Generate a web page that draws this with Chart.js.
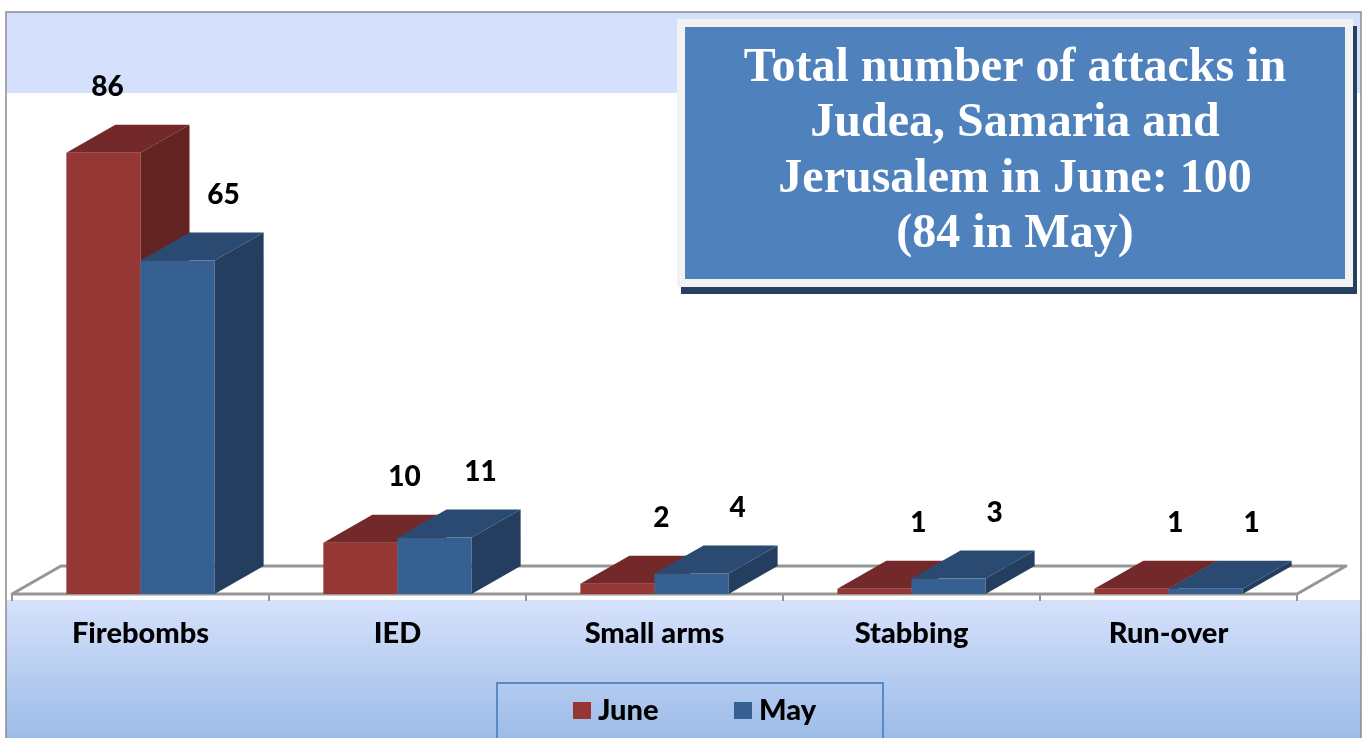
<!DOCTYPE html>
<html>
<head>
<meta charset="utf-8">
<script src="https://cdn.jsdelivr.net/npm/chart.js@4.4.1/dist/chart.umd.min.js"></script>
<style>
  html, body { margin: 0; padding: 0; background: #ffffff; }
  #grafico-ataques { display: block; }
</style>
</head>
<body>
<canvas id="grafico-ataques" width="1365" height="738"></canvas>
<script>
// Datos
const categorias = ['Firebombs', 'IED', 'Small arms', 'Stabbing', 'Run-over'];
const junio = [86, 10, 2, 1, 1];
const mayo = [65, 11, 4, 3, 1];
const series = ['June', 'May'];
const ejeMaximo = 100;
const lineasTitulo = ['Total number of attacks in', 'Judea, Samaria and', 'Jerusalem in June: 100', '(84 in May)'];

// Colores de cada serie: frente, tapa, lado
const colores = [
  { frente: '#953735', tapa: '#73292a', lado: '#632322' },
  { frente: '#376092', tapa: '#2b4a72', lado: '#233e5f' },
];

// Profundidad del efecto 3D
const prof = { dx: 49, dy: 28 };
const fuenteEtiquetas = 'Lato, "Noto Sans", sans-serif';

// Fondo, marco y piso
const pluginFondo = {
  id: 'fondo',
  beforeDraw(chart) {
    const ctx = chart.ctx;
    const area = chart.chartArea;
    ctx.save();
    ctx.fillStyle = '#ffffff';
    ctx.fillRect(0, 0, chart.width, chart.height);

    // Banda superior
    ctx.fillStyle = '#d5e0fc';
    ctx.fillRect(6, 12, 1355, 81);

    // Banda inferior con degradado
    const grad = ctx.createLinearGradient(0, 600, 0, 738);
    grad.addColorStop(0, '#d6e1fc');
    grad.addColorStop(1, '#9cbce8');
    ctx.fillStyle = grad;
    ctx.fillRect(6, 600, 1355, 138);

    // Marco exterior
    ctx.strokeStyle = '#8c8c8c';
    ctx.lineWidth = 1.5;
    ctx.beginPath();
    ctx.moveTo(6, 738);
    ctx.lineTo(6, 12);
    ctx.lineTo(1361, 12);
    ctx.lineTo(1361, 738);
    ctx.stroke();

    // Piso 3D
    ctx.strokeStyle = '#969696';
    ctx.lineWidth = 3;
    ctx.lineJoin = 'round';
    ctx.beginPath();
    ctx.moveTo(area.left, area.bottom);
    ctx.lineTo(area.right, area.bottom);
    ctx.lineTo(area.right + prof.dx, area.bottom - prof.dy);
    ctx.lineTo(area.left + prof.dx, area.bottom - prof.dy);
    ctx.closePath();
    ctx.stroke();

    // Marcas de separación de categorías
    const paso = (area.right - area.left) / categorias.length;
    ctx.lineWidth = 2;
    ctx.beginPath();
    for (let i = 0; i <= categorias.length; i++) {
      const x = area.left + i * paso;
      ctx.moveTo(x, area.bottom);
      ctx.lineTo(x, area.bottom + 7);
    }
    ctx.stroke();
    ctx.restore();
  },
};

// Barras 3D dibujadas a mano a partir de los elementos de Chart.js
const pluginBarras3D = {
  id: 'barras3d',
  beforeDatasetDraw() {
    return false; // no dibujar la barra plana por defecto
  },
  afterDatasetsDraw(chart) {
    const ctx = chart.ctx;
    ctx.save();
    for (let i = 0; i < categorias.length; i++) {
      chart.data.datasets.forEach((ds, d) => {
        const bar = chart.getDatasetMeta(d).data[i];
        const c = colores[d];
        const x0 = bar.x - bar.width / 2;
        const x1 = bar.x + bar.width / 2;
        const top = bar.y;
        const base = bar.base;

        ctx.fillStyle = c.frente;
        ctx.fillRect(x0, top, x1 - x0, base - top);

        ctx.fillStyle = c.tapa;
        ctx.beginPath();
        ctx.moveTo(x0, top);
        ctx.lineTo(x1, top);
        ctx.lineTo(x1 + prof.dx, top - prof.dy);
        ctx.lineTo(x0 + prof.dx, top - prof.dy);
        ctx.closePath();
        ctx.fill();

        ctx.fillStyle = c.lado;
        ctx.beginPath();
        ctx.moveTo(x1, top);
        ctx.lineTo(x1 + prof.dx, top - prof.dy);
        ctx.lineTo(x1 + prof.dx, base - prof.dy);
        ctx.lineTo(x1, base);
        ctx.closePath();
        ctx.fill();
      });
    }

    // Etiquetas de valores
    ctx.fillStyle = '#000000';
    ctx.font = '900 28px ' + fuenteEtiquetas;
    ctx.textAlign = 'center';
    ctx.textBaseline = 'middle';
    chart.data.datasets.forEach((ds, d) => {
      chart.getDatasetMeta(d).data.forEach((bar, i) => {
        // la etiqueta más alta queda encima de la barra
        let dx = d === 0 ? 44 : 46;
        if (d === 0 && i === 0) dx = 4;
        ctx.fillText(String(ds.data[i]), bar.x + dx, bar.y - 66);
      });
    });
    ctx.restore();
  },
};

// Etiquetas de categoría, leyenda y cuadro de título
const pluginTextos = {
  id: 'textos',
  afterDraw(chart) {
    const ctx = chart.ctx;
    const escalaX = chart.scales.x;
    ctx.save();

    // Categorías
    ctx.fillStyle = '#000000';
    ctx.font = '900 29px ' + fuenteEtiquetas;
    ctx.textAlign = 'center';
    ctx.textBaseline = 'alphabetic';
    categorias.forEach((cat, i) => {
      ctx.fillText(cat, escalaX.getPixelForValue(i), 643);
    });

    // Leyenda
    ctx.strokeStyle = '#5a8ac6';
    ctx.lineWidth = 2;
    ctx.strokeRect(497, 683, 386, 60);
    const posLeyenda = [573, 734];
    ctx.font = '900 29px ' + fuenteEtiquetas;
    ctx.textAlign = 'left';
    chart.data.datasets.forEach((ds, d) => {
      ctx.fillStyle = ds.backgroundColor;
      ctx.fillRect(posLeyenda[d], 702, 18, 17);
      ctx.fillStyle = '#000000';
      ctx.fillText(ds.label, posLeyenda[d] + 25, 720);
    });

    // Cuadro del título con sombra
    ctx.fillStyle = '#254061';
    ctx.fillRect(681, 26, 676, 268);
    ctx.fillStyle = '#f2f2f2';
    ctx.fillRect(677, 19, 676, 268);
    ctx.fillStyle = '#4f81bd';
    ctx.fillRect(685, 27, 660, 252);
    ctx.fillStyle = '#ffffff';
    ctx.font = 'bold 48px "Liberation Serif", "Times New Roman", serif';
    ctx.textAlign = 'center';
    lineasTitulo.forEach((linea, i) => {
      ctx.fillText(linea, 1015, 81 + i * 55.3);
    });
    ctx.restore();
  },
};

const ctx = document.getElementById('grafico-ataques').getContext('2d');
window.graficoAtaques = new Chart(ctx, {
  type: 'bar',
  data: {
    labels: categorias,
    datasets: [
      { label: series[0], data: junio, backgroundColor: colores[0].frente },
      { label: series[1], data: mayo, backgroundColor: colores[1].frente },
    ],
  },
  options: {
    responsive: false,
    animation: false,
    devicePixelRatio: 1,
    layout: { padding: { left: 12, right: 68, top: 81, bottom: 144 } },
    datasets: { bar: { categoryPercentage: 0.577, barPercentage: 1 } },
    scales: {
      x: { display: false },
      y: { display: false, min: 0, max: ejeMaximo },
    },
    plugins: {
      legend: { display: false },
      tooltip: { enabled: false },
      title: { display: false },
    },
  },
  plugins: [pluginFondo, pluginBarras3D, pluginTextos],
});
</script>
</body>
</html>
